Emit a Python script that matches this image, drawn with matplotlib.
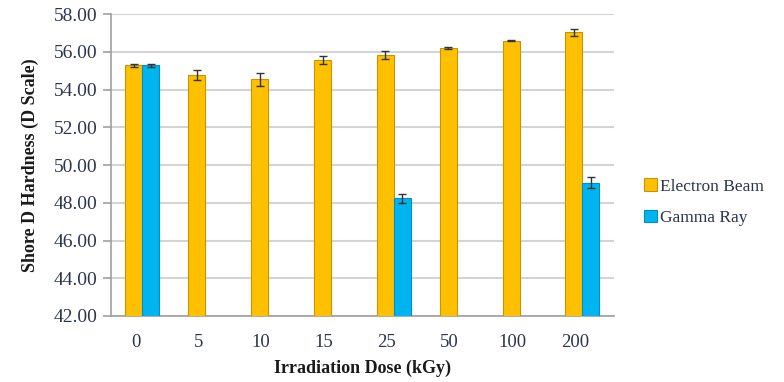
import numpy as np
import matplotlib
matplotlib.use("Agg")
import matplotlib.pyplot as plt
import matplotlib.transforms as mtransforms

doses = ["0", "5", "10", "15", "25", "50", "100", "200"]
eb_vals = [55.28, 54.77, 54.54, 55.56, 55.83, 56.20, 56.60, 57.03]
eb_err = [0.08, 0.26, 0.34, 0.20, 0.20, 0.07, 0.05, 0.20]
gr_vals = [55.28, np.nan, np.nan, np.nan, 48.23, np.nan, np.nan, 49.06]
gr_err = [0.08, np.nan, np.nan, np.nan, 0.26, np.nan, np.nan, 0.30]

plt.rcParams['font.family'] = ['Liberation Serif', 'DejaVu Serif']

fig = plt.figure(figsize=(7.84, 3.82), dpi=100)
ax = fig.add_axes([0.1416, 0.1728, 0.783 - 0.1416, 0.963 - 0.1728])

x = np.arange(len(doses))
w = 0.27
eb_color = "#FFC000"
gr_color = "#00B4F0"
ax.bar(x - w / 2, eb_vals, w, color=eb_color, edgecolor="#C89400",
       linewidth=0.8, label="Electron Beam", zorder=3)
ax.bar(x + w / 2, gr_vals, w, color=gr_color, edgecolor="#0090C8",
       linewidth=0.8, label="Gamma Ray", zorder=3)
ax.errorbar(x - w / 2, eb_vals, yerr=eb_err, fmt="none", ecolor="#333333",
            elinewidth=1.0, capsize=3, capthick=1.0, zorder=4)
ax.errorbar(x + w / 2, gr_vals, yerr=gr_err, fmt="none", ecolor="#333333",
            elinewidth=1.0, capsize=3, capthick=1.0, zorder=4)

ax.set_ylim(42, 58)
ax.set_xlim(-0.5, len(doses) - 0.5)
ax.set_yticks(np.arange(42, 58.1, 2))
ax.set_yticklabels([f"{v:.2f}" for v in np.arange(42, 58.1, 2)])
ax.set_xticks(x)
ax.set_xticklabels(doses)

tick_color = "#2B3550"
ax.tick_params(axis="y", labelsize=14, colors="#A0A0A0", labelcolor=tick_color,
               length=6, width=1.2, pad=4)
ax.tick_params(axis="x", labelsize=13.5, labelcolor=tick_color, length=0, pad=13)
offset = mtransforms.ScaledTranslation(-7 / 100, 0, fig.dpi_scale_trans)
for lbl in ax.get_xticklabels():
    lbl.set_transform(lbl.get_transform() + offset)

ax.yaxis.grid(True, color="#D4D4D4", linewidth=1.5, zorder=0)
ax.set_axisbelow(True)
for s in ["top", "right"]:
    ax.spines[s].set_visible(False)
ax.spines["left"].set_color("#A0A0A0")
ax.spines["left"].set_linewidth(1.2)
ax.spines["bottom"].set_color("#A0A0A0")
ax.spines["bottom"].set_linewidth(1.2)

ax.set_xlabel("Irradiation Dose (kGy)", fontsize=13, fontweight="bold",
              color="#1A1A1A", labelpad=6)
ax.set_ylabel("Shore D Hardness (D Scale)", fontsize=13, fontweight="bold",
              color="#1A1A1A", labelpad=10)

leg = fig.legend(loc="center left", bbox_to_anchor=(0.802, 0.47), frameon=False,
                 fontsize=12.5, handlelength=0.7, handleheight=0.7,
                 handletextpad=0.2, labelspacing=0.9)
for t in leg.get_texts():
    t.set_color(tick_color)

fig.savefig("out.png", dpi=100)
